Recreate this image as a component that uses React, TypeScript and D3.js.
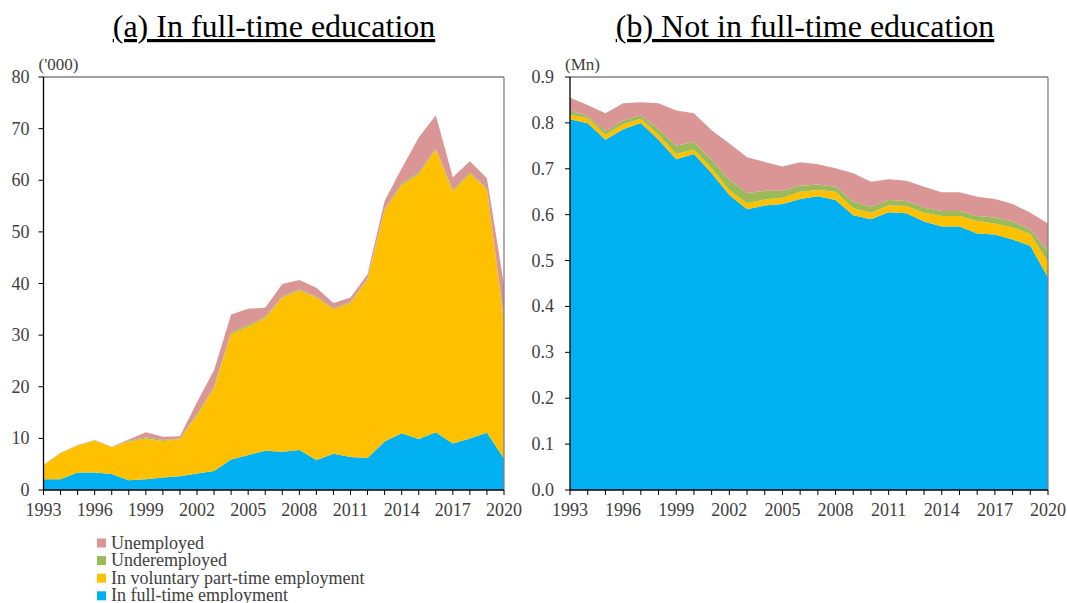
import React from "react";
import * as d3 from "d3";

const years = d3.range(1993, 2021);
const seriesNames = ["In full-time employment", "In voluntary part-time employment", "Underemployed", "Unemployed"];
const seriesKeys = ["fulltime", "voluntary", "under", "unemployed"];
const colors = ["#00B0F0", "#FFC000", "#9BBB59", "#D99694"];

// (a) In full-time education, '000
const eduFullTime = [2.1, 2.1, 3.4, 3.4, 3.1, 1.9, 2.1, 2.4, 2.65, 3.2, 3.7, 5.9, 6.8, 7.6, 7.4, 7.75, 5.8, 7.0, 6.4, 6.2, 9.4, 11.0, 9.9, 11.2, 9.0, 10.0, 11.1, 6.1];
const eduVoluntary = [2.7, 5.0, 5.2, 6.2, 5.2, 7.5, 7.9, 7.1, 7.25, 11.3, 16.0, 24.3, 24.8, 25.7, 29.9, 30.95, 31.5, 28.0, 29.8, 34.6, 44.8, 48.1, 51.3, 54.7, 48.8, 51.3, 47.1, 26.5];
const eduUnder = [0.05, 0.05, 0.05, 0.05, 0.05, 0.1, 0.2, 0.2, 0.1, 0.2, 0.3, 0.3, 0.3, 0.2, 0.2, 0.2, 0.2, 0.2, 0.2, 0.2, 0.2, 0.3, 0.3, 0.2, 0.3, 0.2, 0.2, 0.3];
const eduUnemployed = [0.05, 0.05, 0.05, 0.05, 0.05, 0.3, 1.0, 0.6, 0.4, 2.3, 3.2, 3.5, 3.2, 1.8, 2.4, 1.8, 1.7, 1.0, 0.9, 0.8, 1.6, 2.9, 6.8, 6.5, 2.5, 2.2, 2.0, 6.8];

// (b) Not in full-time education, Mn
const notFullTime = [0.808, 0.799, 0.763, 0.786, 0.800, 0.763, 0.721, 0.732, 0.690, 0.643, 0.612, 0.620, 0.623, 0.634, 0.640, 0.632, 0.599, 0.590, 0.605, 0.603, 0.585, 0.574, 0.574, 0.559, 0.557, 0.546, 0.532, 0.463];
const notVoluntary = [0.010, 0.011, 0.011, 0.011, 0.009, 0.011, 0.011, 0.010, 0.011, 0.011, 0.013, 0.013, 0.014, 0.016, 0.014, 0.018, 0.015, 0.014, 0.015, 0.016, 0.019, 0.023, 0.023, 0.027, 0.024, 0.026, 0.026, 0.034];
const notUnder = [0.009, 0.005, 0.007, 0.008, 0.007, 0.012, 0.018, 0.017, 0.018, 0.022, 0.022, 0.019, 0.015, 0.013, 0.012, 0.011, 0.014, 0.013, 0.012, 0.011, 0.011, 0.011, 0.011, 0.011, 0.013, 0.013, 0.010, 0.022];
const notUnemployed = [0.028, 0.024, 0.040, 0.038, 0.029, 0.057, 0.077, 0.062, 0.065, 0.079, 0.078, 0.063, 0.053, 0.051, 0.044, 0.040, 0.062, 0.055, 0.045, 0.044, 0.046, 0.041, 0.041, 0.042, 0.040, 0.038, 0.036, 0.062];

const leftTicks = [0, 10, 20, 30, 40, 50, 60, 70, 80];
const rightTicks = [0, 0.1, 0.2, 0.3, 0.4, 0.5, 0.6, 0.7, 0.8, 0.9];
const xLabelYears = [1993, 1996, 1999, 2002, 2005, 2008, 2011, 2014, 2017, 2020];

const FONT = "'Liberation Serif', 'Times New Roman', serif";
const TEXT = "#404040";

type PanelProps = {
  x0: number; x1: number; y0: number; y1: number;
  arrays: number[][]; yMax: number; ticks: number[]; fmt: (v: number) => string;
  unit: string; title: string; titleX: number; labelGap: number;
};

function Panel({ x0, x1, y0, y1, arrays, yMax, ticks, fmt, unit, title, titleX, labelGap }: PanelProps) {
  const x = d3.scaleLinear().domain([1993, 2020]).range([x0, x1]);
  const y = d3.scaleLinear().domain([0, yMax]).range([y0, y1]);
  const rows = years.map((yr, i) => {
    const r: any = { year: yr };
    seriesKeys.forEach((k, j) => (r[k] = arrays[j][i]));
    return r;
  });
  const stacked = d3.stack<any>().keys(seriesKeys)(rows);
  const area = d3.area<any>()
    .x((d) => x(d.data.year))
    .y0((d) => y(d[0]))
    .y1((d) => y(d[1]));
  return (
    <g>
      <text x={titleX} y={37} textAnchor="middle" fontFamily={FONT} fontSize={32} fill="#000" textDecoration="underline">{title}</text>
      {stacked.map((s, i) => (
        <path key={i} d={area(s) || ""} fill={colors[i]} stroke="none" />
      ))}
      {/* frame top and right */}
      <line x1={x0} x2={x1} y1={y1} y2={y1} stroke="#808080" strokeWidth={1.3} />
      <line x1={x1} x2={x1} y1={y1} y2={y0} stroke="#808080" strokeWidth={1.3} />
      {/* y axis */}
      <line x1={x0} x2={x0} y1={y1} y2={y0} stroke="#000" strokeWidth={1.3} />
      {ticks.map((t) => (
        <g key={t}>
          <line x1={x0 - 5} x2={x0} y1={y(t)} y2={y(t)} stroke="#000" strokeWidth={1} />
          <text x={x0 - labelGap} y={y(t) + 6} textAnchor="end" fontFamily={FONT} fontSize={18} fill={TEXT}>{fmt(t)}</text>
        </g>
      ))}
      <text x={x0 - 5} y={y1 - 7} fontFamily={FONT} fontSize={17} fill={TEXT}>{unit}</text>
      {/* x axis */}
      <line x1={x0} x2={x1} y1={y0} y2={y0} stroke="#000" strokeWidth={1.3} />
      {years.map((yr) => (
        <line key={yr} x1={x(yr)} x2={x(yr)} y1={y0} y2={y0 + 5} stroke="#000" strokeWidth={1} />
      ))}
      {xLabelYears.map((yr) => (
        <text key={yr} x={x(yr)} y={y0 + 26} textAnchor="middle" fontFamily={FONT} fontSize={18} fill={TEXT}>{yr}</text>
      ))}
    </g>
  );
}

export default function App() {
  const legendOrder = [3, 2, 1, 0];
  return (
    <svg width={1067} height={603} style={{ position: "absolute", left: 0, top: 0, background: "#fff" }}>
      <Panel x0={43.5} x1={504} y0={490} y1={77}
        arrays={[eduFullTime, eduVoluntary, eduUnder, eduUnemployed]}
        yMax={80} ticks={leftTicks} fmt={(v) => String(v)} unit="('000)"
        title="(a) In full-time education" titleX={274} labelGap={14} />
      <Panel x0={570} x1={1048} y0={490} y1={77}
        arrays={[notFullTime, notVoluntary, notUnder, notUnemployed]}
        yMax={0.9} ticks={rightTicks} fmt={(v) => v.toFixed(1)} unit="(Mn)"
        title="(b) Not in full-time education" titleX={805} labelGap={16} />
      {legendOrder.map((si, i) => (
        <g key={si}>
          <rect x={97} y={538.5 + i * 17.6} width={9} height={9} fill={colors[si]} />
          <text x={111} y={548.5 + i * 17.6} fontFamily={FONT} fontSize={18} fill={TEXT}>{seriesNames[si]}</text>
        </g>
      ))}
    </svg>
  );
}
